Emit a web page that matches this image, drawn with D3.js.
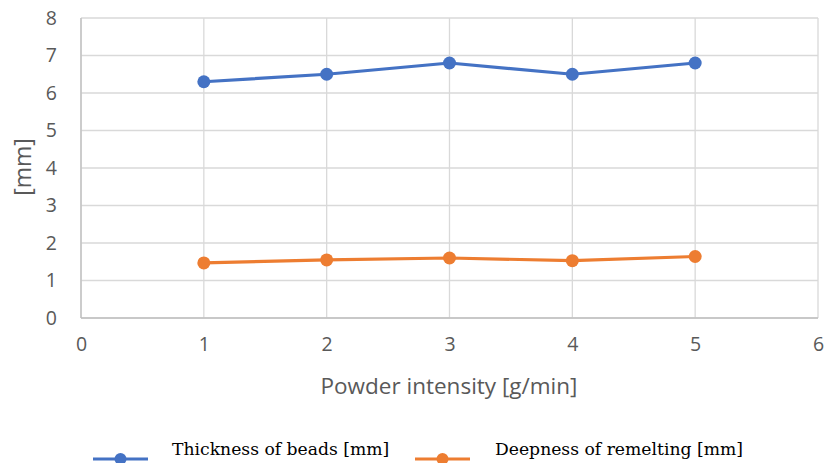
<!DOCTYPE html>
<html><head><meta charset="utf-8">
<script src="https://cdn.jsdelivr.net/npm/d3@7"></script>
<style>body{margin:0;background:#fff}</style>
</head><body><svg id="c" width="825" height="463"></svg>
<script>
const xValues = [1, 2, 3, 4, 5];
const thickness = [6.3, 6.5, 6.8, 6.5, 6.8];
const deepness = [1.47, 1.55, 1.6, 1.53, 1.64];
const seriesNames = ["Thickness of beads [mm]", "Deepness of remelting [mm]"];
const seriesColors = ["#4472C4", "#ED7D31"];
const xTicks = [0, 1, 2, 3, 4, 5, 6];
const yTicks = [0, 1, 2, 3, 4, 5, 6, 7, 8];

const svg = d3.select("#c");
const L = 81, R = 818, T = 18, B = 318;
const x = d3.scaleLinear().domain([0, 6]).range([L, R]);
const y = d3.scaleLinear().domain([0, 8]).range([B, T]);
const tickFont = "'Open Sans', 'Noto Sans', sans-serif";

// grid
svg.append("g").selectAll("line").data(yTicks).join("line")
  .attr("x1", L).attr("x2", R).attr("y1", d => y(d)).attr("y2", d => y(d))
  .attr("stroke", "#d9d9d9").attr("stroke-width", 1.3);
svg.append("g").selectAll("line").data(xTicks).join("line")
  .attr("y1", T).attr("y2", B).attr("x1", d => x(d)).attr("x2", d => x(d))
  .attr("stroke", "#d9d9d9").attr("stroke-width", 1.3);
// axes lines
svg.append("line").attr("x1", L).attr("x2", L).attr("y1", T).attr("y2", B).attr("stroke", "#bfbfbf").attr("stroke-width", 1.3);
svg.append("line").attr("x1", L).attr("x2", R).attr("y1", B).attr("y2", B).attr("stroke", "#bfbfbf").attr("stroke-width", 1.3);

// tick labels via axes
const yAxis = svg.append("g").attr("transform", `translate(${L},0)`)
  .call(d3.axisLeft(y).tickValues(yTicks).tickSize(0).tickPadding(24).tickFormat(d3.format("d")));
yAxis.select(".domain").remove();
yAxis.selectAll("text").attr("font-family", tickFont).attr("font-size", 19.5).attr("fill", "#595959");

const xAxis = svg.append("g").attr("transform", `translate(0,${B})`)
  .call(d3.axisBottom(x).tickValues(xTicks).tickSize(0).tickPadding(19).tickFormat(d3.format("d")));
xAxis.select(".domain").remove();
xAxis.selectAll("text").attr("font-family", tickFont).attr("font-size", 19.5).attr("fill", "#595959");

// axis titles
svg.append("text").attr("x", 449).attr("y", 394).attr("text-anchor", "middle")
  .attr("font-family", tickFont).attr("font-size", 22.5).attr("fill", "#595959")
  .text("Powder intensity [g/min]");
svg.append("text").attr("transform", "translate(31,167) rotate(-90)").attr("text-anchor", "middle")
  .attr("font-family", tickFont).attr("font-size", 23).attr("fill", "#595959")
  .text("[mm]");

// series
const series = [thickness, deepness];
const line = d3.line().x((d, i) => x(xValues[i])).y(d => y(d));
series.forEach((s, k) => {
  svg.append("path").datum(s).attr("d", line).attr("fill", "none")
    .attr("stroke", seriesColors[k]).attr("stroke-width", 3.2).attr("stroke-linejoin", "round");
  svg.append("g").selectAll("circle").data(s).join("circle")
    .attr("cx", (d, i) => x(xValues[i])).attr("cy", d => y(d)).attr("r", 6.5)
    .attr("fill", seriesColors[k]);
});

// legend
const legX = [93, 415], legTextX = [172, 495], ly = 459;
seriesNames.forEach((n, k) => {
  svg.append("line").attr("x1", legX[k]).attr("x2", legX[k] + 55).attr("y1", ly).attr("y2", ly)
    .attr("stroke", seriesColors[k]).attr("stroke-width", 3.2);
  svg.append("circle").attr("cx", legX[k] + 27.5).attr("cy", ly).attr("r", 6).attr("fill", seriesColors[k]);
  svg.append("text").attr("x", legTextX[k]).attr("y", 455)
    .attr("font-family", "'DejaVu Serif', 'Liberation Serif', serif").attr("font-size", 17.2).attr("fill", "#000")
    .text(n);
});
</script></body></html>
